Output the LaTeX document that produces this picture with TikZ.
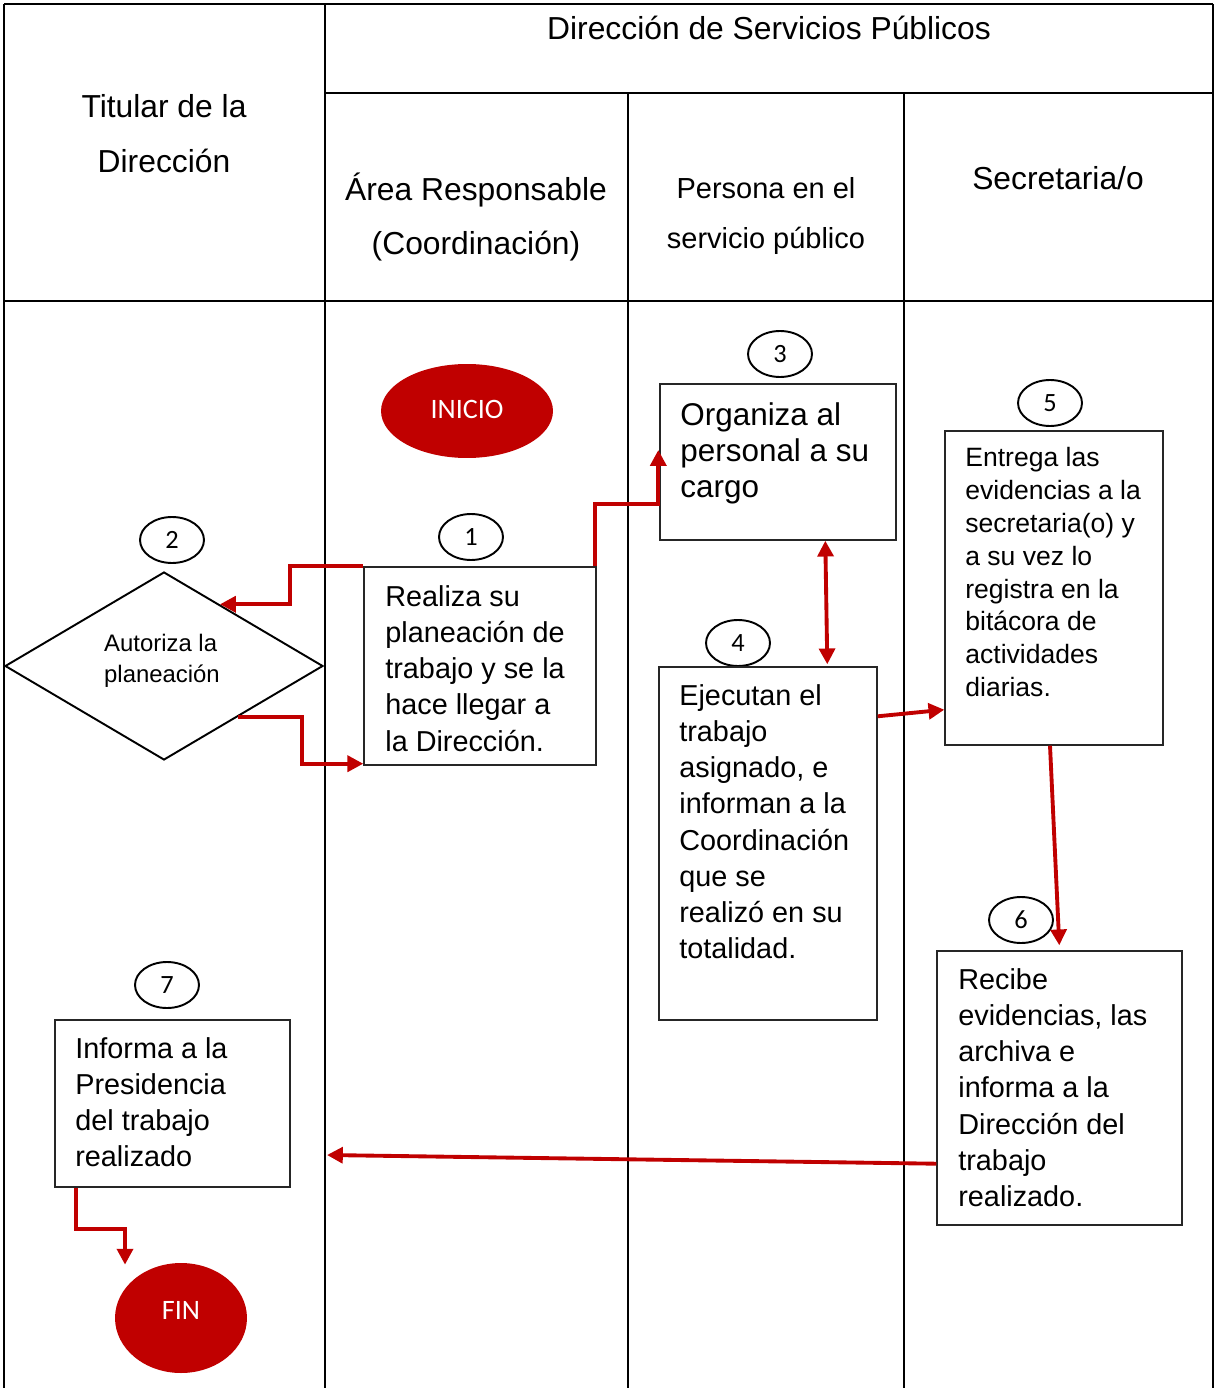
\documentclass[tikz,border=0pt]{standalone}
\usepackage{fontspec}
\setmainfont{Liberation Sans}
\newfontfamily\calib{Carlito}
\usetikzlibrary{shapes.geometric,arrows.meta,calc,fit}
\definecolor{dred}{HTML}{C00000}
\begin{document}
\begin{tikzpicture}[x=0.02cm,y=-0.02cm,
 lane/.style={line width=1.3pt, black},
 box/.style={draw=black!85, line width=0.8pt, inner sep=0pt, rectangle},
 txt/.style={align=left, inner sep=0pt, anchor=north west, font=\fontsize{16.4pt}{20.6pt}\selectfont},
 hdr/.style={align=center, inner sep=0pt, font=\fontsize{18.1pt}{31.2pt}\selectfont},
 num/.style={ellipse, draw, line width=1.1pt, minimum width=1.28cm, minimum height=0.92cm, inner sep=0pt, font=\calib\fontsize{15pt}{15pt}\selectfont},
 term/.style={ellipse, fill=dred, inner sep=0pt},
 termtxt/.style={inner sep=0pt, text=white, font=\calib\fontsize{16pt}{16pt}\selectfont},
 arr/.style={draw=dred, line width=2.2pt, -{Triangle[length=9pt,width=9pt]}},
 darr/.style={draw=dred, line width=2.2pt, {Triangle[length=9pt,width=9pt]}-{Triangle[length=9pt,width=9pt]}},
]
\useasboundingbox (0,0) rectangle (1214,1388);
% table
\draw[lane] (4,4) -- (1213,4);
\draw[lane] (4,4) -- (4,1388);
\draw[lane] (1213,4) -- (1213,1388);
\draw[lane] (325,4) -- (325,1388);
\draw[lane] (628,93) -- (628,1388);
\draw[lane] (904,93) -- (904,1388);
\draw[lane] (325,93) -- (1213,93);
\draw[lane] (4,301) -- (1213,301);
% headers
\node[hdr] (hd) at (769,28) {Dirección de Servicios Públicos};
\node[hdr] (h1) at (164,134) {Titular de la\\Dirección};
\node[hdr] (h2) at (476,217) {Área Responsable\\(Coordinación)};
\node[hdr, font=\fontsize{16.5pt}{28.3pt}\selectfont] (h3) at (766,216) {Persona en el\\servicio público};
\node[hdr] (h4) at (1058,178) {Secretaria/o};
% terminals
\node[term, minimum width=3.44cm, minimum height=1.88cm] (ini) at (467,411) {};
\node[termtxt] (init) at (467,409) {INICIO};
\node[term, minimum width=2.64cm, minimum height=2.2cm] (fin) at (181,1318) {};
\node[termtxt] (fint) at (181,1310) {FIN};
% numbers
\node[num] (n1) at (471,537) {1};
\node[num] (n2) at (172,540) {2};
\node[num] (n3) at (780,354) {3};
\node[num] (n4) at (738,643) {4};
\node[num] (n5) at (1050,403) {5};
\node[num] (n6) at (1021,920) {6};
\node[num] (n7) at (167,985) {7};
% boxes
\node[box, fit={(364,567) (596,765)}] (b1) {};
\node[box, fit={(660,384) (896,540)}] (b3) {};
\node[box, fit={(659,667) (877,1020)}] (b4) {};
\node[box, fit={(945,431) (1163,745)}] (b5) {};
\node[box, fit={(937,951) (1182,1225)}] (b6) {};
\node[box, fit={(55,1020) (290,1187)}] (b7) {};
\node[diamond, draw, line width=1.1pt, minimum width=6.36cm, minimum height=3.76cm, inner sep=0pt] (dia) at (164,666) {};
% texts
\node[txt] (t1) at (385,585) {Realiza su\\planeación de\\trabajo y se la\\hace llegar a\\la Dirección.};
\node[txt, font=\fontsize{17.9pt}{20.7pt}\selectfont] (t3) at (680,402) {Organiza al\\personal a su\\cargo};
\node[txt] (t4) at (679,684) {Ejecutan el\\trabajo\\asignado, e\\informan a la\\Coordinación\\que se\\realizó en su\\totalidad.};
\node[txt, font=\fontsize{15.1pt}{18.7pt}\selectfont] (t5) at (965,447) {Entrega las\\evidencias a la\\secretaria(o) y\\a su vez lo\\registra en la\\bitácora de\\actividades\\diarias.};
\node[txt] (t6) at (958,968) {Recibe\\evidencias, las\\archiva e\\informa a la\\Dirección del\\trabajo\\realizado.};
\node[txt] (t7) at (75,1037) {Informa a la\\Presidencia\\del trabajo\\realizado};
\node[align=left, inner sep=0pt, font=\fontsize{13.6pt}{17.6pt}\selectfont] (td) at (162,661) {Autoriza la\\planeación};
% connectors
\coordinate (g7) at (327,1155);
\draw[arr] (b1.north west) -- ++(-73,0) |- ($(dia.north)!0.35!(dia.east)$);
\draw[arr] ($(dia.east)!0.54!(dia.south)$) -- ++(64,0) |- ($(b1.south west)+(0,-2)$);
\draw[arr] ($(b1.north east)+(-2,0)$) -- ++(0,-62) -| ($(b3.west)+(-1,-12)$);
\draw[darr] ($(b3.south west)+(166,0)$) -- ($(b4.north west)+(169,-2)$);
\draw[arr] ($(b4.north east)+(0,50)$) -- ($(b5.south west)+(0,-36)$);
\draw[arr] ($(b5.south)+(-4,0)$) -- ($(b6.north west)+(123,-5)$);
\draw[arr] ($(b6.south west)+(0,-62)$) -- (g7);
\draw[arr] ($(b7.south west)+(22,0)$) -- ++(0,41) -| ($(fin.north)+(-56,2)$);
\end{tikzpicture}
\end{document}
